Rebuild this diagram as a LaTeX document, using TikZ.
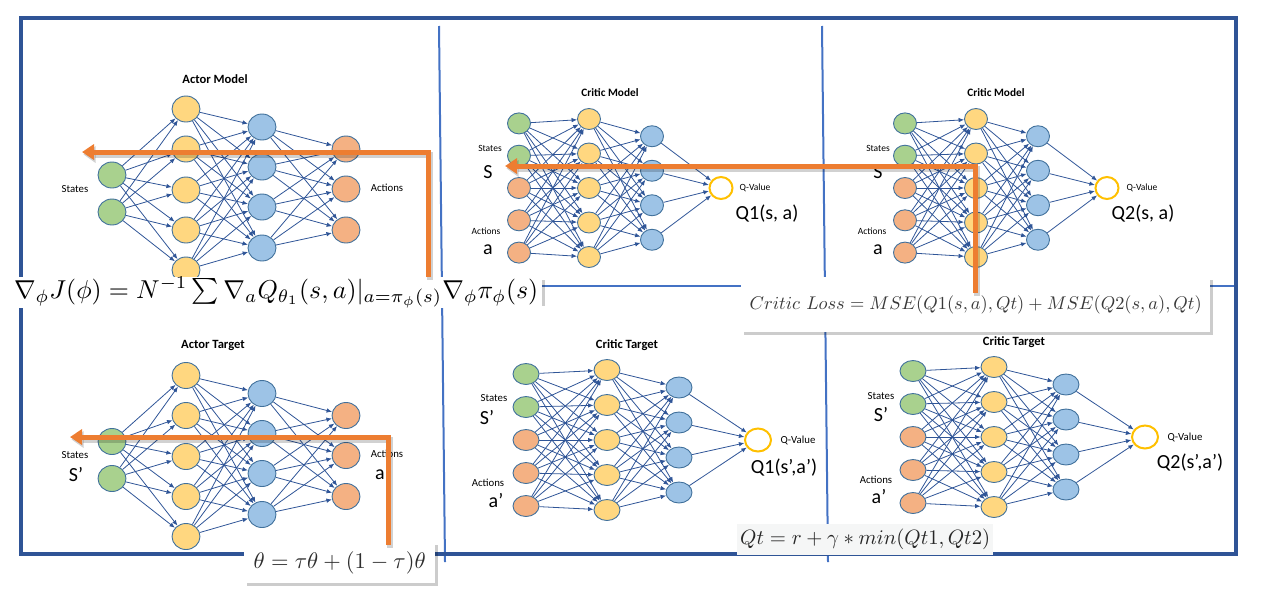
\documentclass[tikz,border=0pt]{standalone}
\usepackage{fontspec}
\setsansfont{Carlito}
\usetikzlibrary{arrows.meta,shapes.geometric}
\definecolor{frameblue}{HTML}{2F5496}
\definecolor{lineblue}{HTML}{4472C4}
\definecolor{edgeblue}{HTML}{2F5597}
\definecolor{ngreen}{HTML}{A9D18E}
\definecolor{nyellow}{HTML}{FFD780}
\definecolor{nblue}{HTML}{9DC3E6}
\definecolor{norange}{HTML}{F4B183}
\definecolor{nborder}{HTML}{41719C}
\definecolor{qgold}{HTML}{FFC000}
\definecolor{arrorange}{HTML}{ED7D31}
\definecolor{qtbg}{HTML}{F5F6F6}
\tikzset{
  nn/.style={ellipse, draw=nborder, line width=0.9pt, inner sep=0pt, minimum width=\nw, minimum height=\nh},
  qn/.style={ellipse, draw=qgold, line width=2pt, fill=white, inner sep=0pt, minimum width=\qw, minimum height=\qh},
  edge/.style={draw=edgeblue, line width=0.8pt, -{Latex[length=5.5pt,width=4.5pt]}},
  lbl/.style={font=\sffamily\fontsize{9.5}{10}\selectfont, inner sep=0pt},
  lblb/.style={font=\sffamily\fontsize{10.8}{11}\selectfont, inner sep=0pt},
  big/.style={font=\sffamily\fontsize{20}{22}\selectfont, inner sep=0pt},
  ttl/.style={font=\sffamily\bfseries\fontsize{11.3}{12}\selectfont, inner sep=0pt},
  ttlb/.style={font=\sffamily\bfseries\fontsize{12.6}{13}\selectfont, inner sep=0pt},
  fbox/.style={fill=white, inner sep=0pt, anchor=north west},
  bshadow/.style={fill=black, opacity=0.2},
  oarrow/.style={draw=arrorange, line width=5pt, -{Triangle[length=12pt,width=15pt]}},
  oshadow/.style={draw=black, opacity=0.18, line width=6pt, -{Triangle[length=12pt,width=16pt]}},
}
\newcommand\ActorNet[2]{%
  \foreach \yy [count=\i] in {175,212} \node[nn,fill=ngreen] (#1g\i) at (112,\yy+#2) {};
  \foreach \yy [count=\i] in {109,149,190,230,270} \node[nn,fill=nyellow] (#1h\i) at (186,\yy+#2) {};
  \foreach \yy [count=\i] in {127,167,207,248} \node[nn,fill=nblue] (#1b\i) at (262,\yy+#2) {};
  \foreach \yy [count=\i] in {149,189,230} \node[nn,fill=norange] (#1o\i) at (346,\yy+#2) {};
  \foreach \i in {1,2} \foreach \j in {1,...,5} \draw[edge] (#1g\i) -- (#1h\j);
  \foreach \i in {1,...,5} \foreach \j in {1,...,4} \draw[edge] (#1h\i) -- (#1b\j);
  \foreach \i in {1,...,4} \foreach \j in {1,...,3} \draw[edge] (#1b\i) -- (#1o\j);
}
\newcommand\CriticNet[8]{%
  \foreach \clr [count=\i] in {ngreen,ngreen,norange,norange,norange}
    \node[nn,fill=\clr] (#1i\i) at (#2,{#6+(\i-3)*#7}) {};
  \foreach \i in {1,...,5} \node[nn,fill=nyellow] (#1h\i) at (#3,{#6+(\i-3)*#8}) {};
  \foreach \i in {1,...,4} \node[nn,fill=nblue] (#1b\i) at (#4,{#6+(\i-2.5)*#8}) {};
  \node[qn] (#1q) at (#5,#6) {};
  \foreach \i in {1,...,5} \foreach \j in {1,...,5} \draw[edge] (#1i\i) -- (#1h\j);
  \foreach \i in {1,...,5} \foreach \j in {1,...,4} \draw[edge] (#1h\i) -- (#1b\j);
  \foreach \i in {1,...,4} \draw[edge] (#1b\i) -- (#1q);
}
\begin{document}
\begin{tikzpicture}[x=1pt,y=-1pt]
\useasboundingbox (0,0) rectangle (1284,600);
% grid lines
\draw[lineblue, line width=2pt] (439,26) -- (445,562);
\draw[lineblue, line width=2pt] (822,26) -- (828,562);
\draw[lineblue, line width=2.5pt] (21,286) -- (1236,286);
\draw[frameblue, line width=4pt] (21,17.5) rectangle (1236,553.5);
% actor networks
\def\nw{28pt}\def\nh{26pt}
\ActorNet{am}{0}
\ActorNet{at}{266.5}
\node[ttlb] (amt) at (215,79) {Actor Model};
\node[lblb] (ams) at (75,189) {States};
\node[lblb] (ama) at (387,188) {Actions};
\node[ttlb] (att) at (213,345) {Actor Target};
\node[lblb] (ats) at (75,455) {States};
\node[big] (atS) at (76,475) {S’};
\node[lblb] (ata) at (387,454) {Actions};
\node[big] (ataa) at (380,475) {a};
% critic models
\def\nw{23pt}\def\nh{21pt}\def\qw{23pt}\def\qh{22pt}
\CriticNet{c1}{519}{589}{652}{721}{188}{32.3}{34.5}
\CriticNet{c2}{905}{976}{1038}{1107}{188}{32.3}{34.5}
\def\nw{26pt}\def\nh{21pt}\def\qw{26pt}\def\qh{23pt}
\CriticNet{c3}{526}{607}{679}{758}{440}{33}{35}
\CriticNet{c4}{913}{994}{1066}{1145}{437}{33}{35}
\node[ttl] (c1t) at (610,93) {Critic Model};
\node[lbl] (c1s) at (490,148) {States};
\node[big] (c1S) at (488,172) {S};
\node[lbl] (c1a) at (486,231) {Actions};
\node[big] (c1aa) at (488,250) {a};
\node[lbl] (c1qv) at (755,188) {Q-Value};
\node[big] (c1Q) at (767,214) {Q1(s, a)};
\node[ttl] (c2t) at (996,93) {Critic Model};
\node[lbl] (c2s) at (878,148) {States};
\node[big] (c2S) at (878,172) {S};
\node[lbl] (c2a) at (872,231) {Actions};
\node[big] (c2aa) at (878,250) {a};
\node[lbl] (c2qv) at (1142,188) {Q-Value};
\node[big] (c2Q) at (1143,214) {Q2(s, a)};
\node[ttlb] (c3t) at (627,345) {Critic Target};
\node[lblb] (c3s) at (494,398) {States};
\node[big] (c3S) at (487,418) {S’};
\node[lblb] (c3a) at (488,483) {Actions};
\node[big] (c3aa) at (496,501) {a’};
\node[lblb] (c3qv) at (798,440) {Q-Value};
\node[big] (c3Q) at (784,468) {Q1(s’,a’)};
\node[ttlb] (c4t) at (1014,342) {Critic Target};
\node[lblb] (c4s) at (881,396) {States};
\node[big] (c4S) at (881,415) {S’};
\node[lblb] (c4a) at (876,480) {Actions};
\node[big] (c4aa) at (879,497) {a’};
\node[lblb] (c4qv) at (1185,437) {Q-Value};
\node[big] (c4Q) at (1190,463) {Q2(s’,a’)};
% formula box shadows
\fill[bshadow] (13,280) rectangle (545,306);
\fill[bshadow] (744,280) rectangle (1213,335);
\fill[bshadow] (247,545) rectangle (438,586);
% formula boxes
\node[fbox, minimum width=532pt, minimum height=26pt] (f1) at (10,277)
  {\resizebox{524pt}{!}{$\nabla_\phi J(\phi) = N^{-1}\sum \nabla_a Q_{\theta_1}(s,a)|_{a=\pi_\phi(s)}\nabla_\phi\pi_\phi(s)$}};
\node[fbox, minimum width=469pt, minimum height=55pt, text=black!78] (f2) at (741,277)
  {\resizebox{452pt}{!}{$Critic\ Loss = MSE(Q1(s,a),Qt) + MSE(Q2(s,a),Qt)$}};
\node[fbox, minimum width=191pt, minimum height=41pt, text=black!82] (f3) at (244,542)
  {\resizebox{172pt}{!}{$\theta = \tau\theta + (1-\tau)\theta$}};
\node[fill=qtbg, inner sep=0pt, anchor=north west, minimum width=256pt, minimum height=31pt, text=black!85] (f4) at (737,524)
  {\resizebox{250pt}{!}{$Qt = r + \gamma * min(Qt1, Qt2)$}};
% orange arrows
\coordinate (o1s) at (428,277); \coordinate (o1c) at (428,152); \coordinate (o1e) at (82,152);
\coordinate (o2s) at (975.5,293); \coordinate (o2c) at (975.5,166); \coordinate (o2e) at (505,166);
\coordinate (o3s) at (388,545); \coordinate (o3c) at (388,437); \coordinate (o3e) at (70,437);
\begin{scope}[transform canvas={shift={(1.5pt,-2.5pt)}}]
\draw[oshadow] (o1s) -- (o1c) -- (o1e);
\draw[oshadow] (o2s) -- (o2c) -- (o2e);
\draw[oshadow] (o3s) -- (o3c) -- (o3e);
\end{scope}
\draw[oarrow] (o1s) -- (o1c) -- (o1e);
\draw[oarrow] (o2s) -- (o2c) -- (o2e);
\draw[oarrow] (o3s) -- (o3c) -- (o3e);
\end{tikzpicture}
\end{document}
